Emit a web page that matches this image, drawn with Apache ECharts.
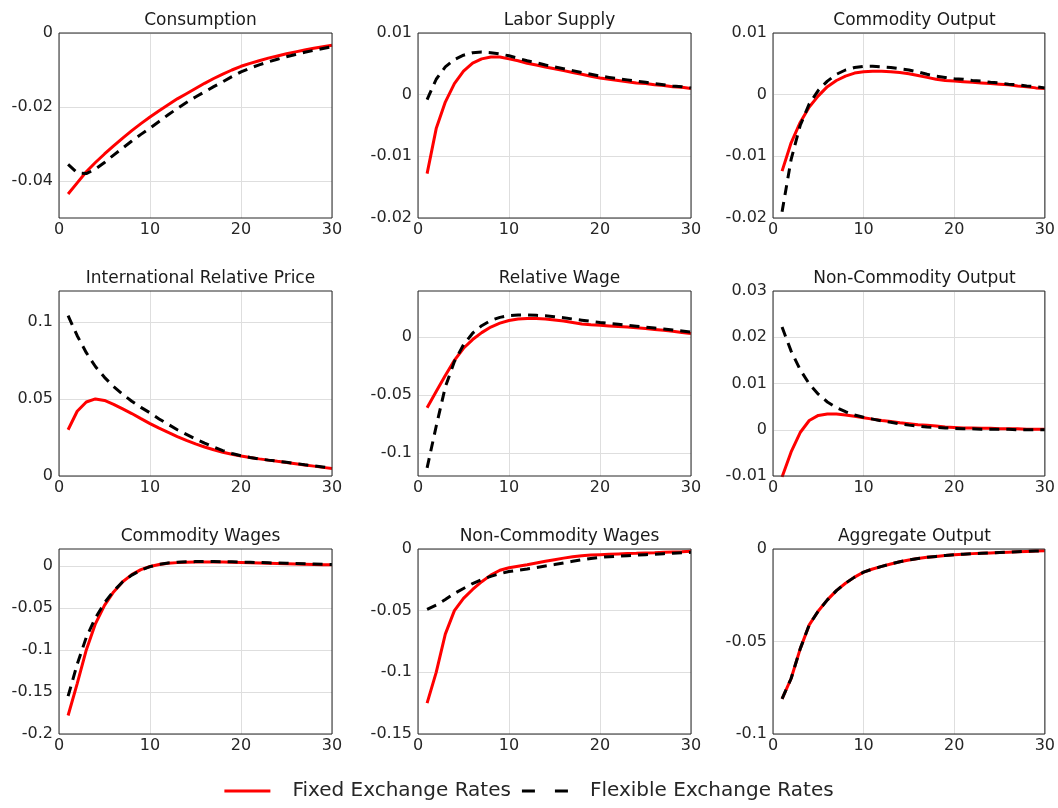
<!DOCTYPE html>
<html>
<head>
<meta charset="utf-8">
<script src="https://cdn.jsdelivr.net/npm/echarts@6/dist/echarts.min.js"></script>
<style>
html,body{margin:0;padding:0;background:#fff;}
#chart{width:1058px;height:808px;}
</style>
</head>
<body>
<div id="chart"></div>
<script>
const periods = [1,2,3,4,5,6,7,8,9,10,11,12,13,14,15,16,17,18,19,20,21,22,23,24,25,26,27,28,29,30];
const xTicks = [0,10,20,30];

const consumptionFixed = [-0.0435,-0.0405,-0.0375,-0.0350,-0.0327,-0.0305,-0.0284,-0.0264,-0.0245,-0.0227,-0.0210,-0.0194,-0.0178,-0.0164,-0.0150,-0.0136,-0.0123,-0.0111,-0.0100,-0.0090,-0.0082,-0.0075,-0.0068,-0.0062,-0.0056,-0.0051,-0.0046,-0.0041,-0.0037,-0.0033];
const consumptionFlex = [-0.0355,-0.0378,-0.0380,-0.0368,-0.0350,-0.0330,-0.0311,-0.0292,-0.0274,-0.0257,-0.0239,-0.0221,-0.0204,-0.0188,-0.0173,-0.0159,-0.0145,-0.0132,-0.0118,-0.0105,-0.0095,-0.0086,-0.0078,-0.0071,-0.0064,-0.0058,-0.0052,-0.0047,-0.0042,-0.0037];
const consumptionTicks = [-0.04,-0.02,0];

const laborFixed = [-0.0128,-0.0055,-0.0012,0.0018,0.0038,0.0051,0.0058,0.0061,0.0061,0.0058,0.0055,0.0051,0.0048,0.0045,0.0042,0.0039,0.0036,0.0033,0.0030,0.0027,0.0025,0.0023,0.0021,0.0019,0.0018,0.0016,0.0015,0.0013,0.0012,0.0010];
const laborFlex = [-0.0008,0.0025,0.0045,0.0057,0.0064,0.0068,0.0069,0.0068,0.0066,0.0063,0.0059,0.0055,0.0052,0.0048,0.0045,0.0042,0.0039,0.0036,0.0033,0.0030,0.0028,0.0026,0.0024,0.0022,0.0020,0.0018,0.0016,0.0014,0.0013,0.0011];
const laborTicks = [-0.02,-0.01,0,0.01];

const commOutFixed = [-0.0124,-0.0078,-0.0045,-0.0020,-0.0002,0.0013,0.0023,0.0030,0.0035,0.0037,0.0038,0.0038,0.0037,0.0036,0.0034,0.0031,0.0028,0.0025,0.0023,0.0022,0.0021,0.0020,0.0019,0.0018,0.0017,0.0016,0.0014,0.0013,0.0011,0.0010];
const commOutFlex = [-0.0190,-0.0105,-0.0050,-0.0015,0.0007,0.0022,0.0033,0.0040,0.0044,0.0046,0.0046,0.0045,0.0044,0.0042,0.0040,0.0037,0.0033,0.0030,0.0028,0.0026,0.0025,0.0023,0.0022,0.0020,0.0019,0.0017,0.0016,0.0014,0.0013,0.0011];
const commOutTicks = [-0.02,-0.01,0,0.01];

const relPriceFixed = [0.030,0.042,0.048,0.050,0.049,0.0465,0.0435,0.0405,0.0372,0.034,0.031,0.0283,0.0256,0.0231,0.0208,0.0188,0.0170,0.0154,0.0141,0.0130,0.0120,0.0111,0.0103,0.0095,0.0088,0.0080,0.0072,0.0064,0.0056,0.0048];
const relPriceFlex = [0.104,0.091,0.080,0.071,0.064,0.058,0.053,0.0485,0.0445,0.041,0.037,0.0335,0.030,0.027,0.024,0.0213,0.0188,0.0165,0.0146,0.0131,0.0120,0.0111,0.0103,0.0096,0.0089,0.0081,0.0073,0.0066,0.0059,0.0052];
const relPriceTicks = [0,0.05,0.1];

const relWageFixed = [-0.061,-0.047,-0.033,-0.020,-0.0095,-0.0020,0.0040,0.0088,0.0122,0.0145,0.0157,0.0162,0.0163,0.0158,0.0150,0.0140,0.0128,0.0115,0.0108,0.0103,0.0098,0.0093,0.0088,0.0082,0.0075,0.0068,0.0060,0.0051,0.0041,0.0032];
const relWageFlex = [-0.113,-0.077,-0.043,-0.021,-0.0065,0.0035,0.0100,0.0145,0.0172,0.0187,0.0192,0.0193,0.0190,0.0185,0.0178,0.0169,0.0158,0.0148,0.0138,0.0128,0.0120,0.0112,0.0104,0.0096,0.0088,0.0080,0.0072,0.0063,0.0054,0.0045];
const relWageTicks = [-0.1,-0.05,0];

const nonCommOutFixed = [-0.0102,-0.0048,-0.0006,0.0020,0.0031,0.0034,0.0034,0.0032,0.0029,0.0026,0.0023,0.0020,0.0018,0.0015,0.0013,0.0011,0.0010,0.0008,0.0006,0.0005,0.0004,0.0004,0.0003,0.0003,0.0002,0.0002,0.0002,0.0001,0.0001,0.0001];
const nonCommOutFlex = [0.0222,0.0170,0.0130,0.0099,0.0077,0.0060,0.0048,0.0039,0.0032,0.0027,0.0023,0.0019,0.0016,0.0013,0.0010,0.0008,0.0006,0.0005,0.0004,0.0003,0.0002,0.0002,0.0001,0.0001,0.0001,0.0001,0,0,0,0];
const nonCommOutTicks = [-0.01,0,0.01,0.02,0.03];

const commWageFixed = [-0.178,-0.140,-0.100,-0.069,-0.047,-0.031,-0.019,-0.0105,-0.0045,-0.0008,0.0015,0.0030,0.0038,0.0042,0.0044,0.0045,0.0045,0.0044,0.0042,0.0040,0.0037,0.0034,0.0031,0.0028,0.0025,0.0022,0.0019,0.0016,0.0014,0.0012];
const commWageFlex = [-0.155,-0.117,-0.085,-0.062,-0.044,-0.030,-0.019,-0.011,-0.0050,-0.0010,0.0017,0.0034,0.0043,0.0048,0.0050,0.0051,0.0050,0.0049,0.0047,0.0045,0.0042,0.0039,0.0036,0.0033,0.0030,0.0027,0.0024,0.0021,0.0018,0.0015];
const commWageTicks = [-0.2,-0.15,-0.1,-0.05,0];

const nonCommWageFixed = [-0.125,-0.100,-0.069,-0.050,-0.040,-0.0328,-0.0265,-0.0212,-0.0172,-0.0152,-0.0140,-0.0128,-0.0114,-0.0100,-0.0087,-0.0074,-0.0062,-0.0054,-0.0049,-0.0046,-0.0043,-0.0040,-0.0037,-0.0035,-0.0032,-0.0030,-0.0027,-0.0024,-0.0022,-0.0019];
const nonCommWageFlex = [-0.049,-0.0455,-0.041,-0.036,-0.032,-0.028,-0.0248,-0.0222,-0.0200,-0.0183,-0.0172,-0.0162,-0.0150,-0.0138,-0.0126,-0.0113,-0.0100,-0.0088,-0.0077,-0.0068,-0.0063,-0.0058,-0.0054,-0.0050,-0.0046,-0.0042,-0.0038,-0.0034,-0.0030,-0.0027];
const nonCommWageTicks = [-0.15,-0.1,-0.05,0];

const aggOutFixed = [-0.081,-0.070,-0.054,-0.041,-0.0335,-0.0275,-0.0225,-0.0185,-0.0152,-0.0125,-0.0108,-0.0094,-0.0081,-0.0069,-0.0059,-0.0051,-0.0045,-0.0040,-0.0035,-0.0031,-0.0028,-0.0025,-0.0023,-0.0021,-0.0019,-0.0017,-0.0015,-0.0013,-0.0011,-0.0009];
const aggOutFlex = [-0.081,-0.070,-0.054,-0.041,-0.0335,-0.0275,-0.0225,-0.0185,-0.0152,-0.0125,-0.0108,-0.0094,-0.0081,-0.0069,-0.0059,-0.0051,-0.0045,-0.0040,-0.0035,-0.0031,-0.0028,-0.0025,-0.0023,-0.0021,-0.0019,-0.0017,-0.0015,-0.0013,-0.0011,-0.0009];
const aggOutTicks = [-0.1,-0.05,0];

const seriesNames = ['Fixed Exchange Rates','Flexible Exchange Rates'];

const panels = [
  {title:'Consumption', fixed:consumptionFixed, flex:consumptionFlex, min:-0.05, max:0, ticks:consumptionTicks},
  {title:'Labor Supply', fixed:laborFixed, flex:laborFlex, min:-0.02, max:0.01, ticks:laborTicks},
  {title:'Commodity Output', fixed:commOutFixed, flex:commOutFlex, min:-0.02, max:0.01, ticks:commOutTicks},
  {title:'International Relative Price', fixed:relPriceFixed, flex:relPriceFlex, min:0, max:0.12, ticks:relPriceTicks},
  {title:'Relative Wage', fixed:relWageFixed, flex:relWageFlex, min:-0.12, max:0.04, ticks:relWageTicks},
  {title:'Non-Commodity Output', fixed:nonCommOutFixed, flex:nonCommOutFlex, min:-0.01, max:0.03, ticks:nonCommOutTicks},
  {title:'Commodity Wages', fixed:commWageFixed, flex:commWageFlex, min:-0.2, max:0.02, ticks:commWageTicks},
  {title:'Non-Commodity Wages', fixed:nonCommWageFixed, flex:nonCommWageFlex, min:-0.15, max:0, ticks:nonCommWageTicks},
  {title:'Aggregate Output', fixed:aggOutFixed, flex:aggOutFlex, min:-0.1, max:0, ticks:aggOutTicks}
];

const colLeft = [59, 418, 773];
const rowTop = [33, 291, 549];
const plotW = 273, plotH = 185;
const textColor = '#262626';
const fontFamily = 'DejaVu Sans, sans-serif';

const grids = [], xAxes = [], yAxes = [], titles = [], series = [];
panels.forEach((p, i) => {
  const c = i % 3, r = Math.floor(i / 3);
  grids.push({left: colLeft[c], top: rowTop[r], width: plotW, height: plotH, z: 10,
    show: true, borderColor: '#262626', borderWidth: 1, backgroundColor: 'transparent'});
  titles.push({text: p.title, left: colLeft[c] + plotW / 2, top: rowTop[r] - 27, textAlign: 'center',
    textStyle: {fontFamily, fontSize: 17, fontWeight: 'normal', color: '#1a1a1a', lineHeight: 20}});
  xAxes.push({type: 'value', gridIndex: i, min: 0, max: 30, interval: 10,
    axisLine: {show: false}, axisTick: {show: false},
    axisLabel: {fontFamily, fontSize: 16, color: textColor, margin: 4, customValues: xTicks},
    splitLine: {show: true, lineStyle: {color: '#dedede', width: 1}}});
  yAxes.push({type: 'value', gridIndex: i, min: p.min, max: p.max,
    axisLine: {show: false},
    axisTick: {show: false, customValues: p.ticks},
    axisLabel: {fontFamily, fontSize: 16, color: textColor, margin: 6, customValues: p.ticks},
    splitLine: {show: true, lineStyle: {color: '#dedede', width: 1}}});
  series.push({name: seriesNames[0], type: 'line', xAxisIndex: i, yAxisIndex: i,
    data: periods.map((t, j) => [t, p.fixed[j]]), symbol: 'none', z: 2,
    lineStyle: {color: '#ff0000', width: 3}, itemStyle: {color: '#ff0000'}});
  series.push({name: seriesNames[1], type: 'line', xAxisIndex: i, yAxisIndex: i,
    data: periods.map((t, j) => [t, p.flex[j]]), symbol: 'none', z: 3,
    lineStyle: {color: '#000000', width: 3, type: [10, 7]}, itemStyle: {color: '#000000'}});
});

const chart = echarts.init(document.getElementById('chart'), null, {renderer: 'canvas'});
chart.setOption({
  animation: false,
  backgroundColor: '#fff',
  title: titles,
  grid: grids,
  xAxis: xAxes,
  yAxis: yAxes,
  legend: {
    left: 'center', top: 776, itemWidth: 46, itemHeight: 3, itemGap: 11,
    textStyle: {fontFamily, fontSize: 20, color: textColor, padding: [0, 0, 0, 17]},
    data: [
      {name: seriesNames[0], icon: 'path://M0,0H46V3H0Z', itemStyle: {color: '#ff0000'}},
      {name: seriesNames[1], icon: 'path://M0,0H13V3H0Z M33,0H46V3H33Z', itemStyle: {color: '#000000'}}
    ]
  },
  series: series
});
</script>
</body>
</html>
